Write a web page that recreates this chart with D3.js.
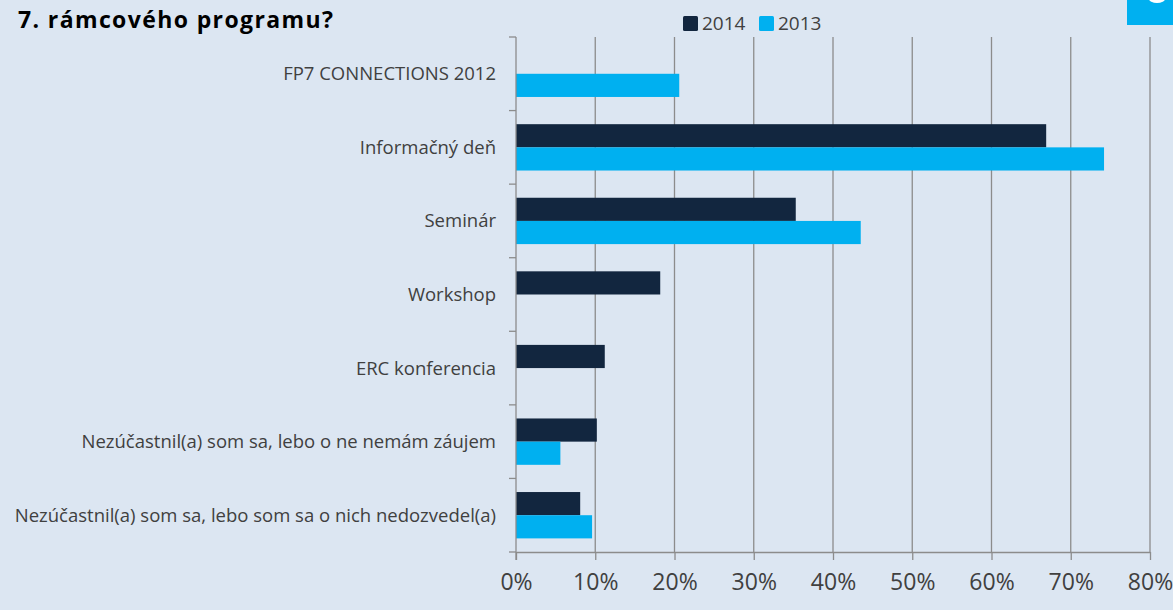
<!DOCTYPE html>
<html>
<head>
<meta charset="utf-8">
<script src="https://cdn.jsdelivr.net/npm/d3@7"></script>
<style>
  body { margin: 0; background: #dce6f2; }
  svg { display: block; font-family: "Open Sans", sans-serif; }
</style>
</head>
<body>
<svg id="chart_svg" width="1173" height="610"></svg>
<script>
var categories = [
  "FP7 CONNECTIONS 2012",
  "Informačný deň",
  "Seminár",
  "Workshop",
  "ERC konferencia",
  "Nezúčastnil(a) som sa, lebo o ne nemám záujem",
  "Nezúčastnil(a) som sa, lebo som sa o nich nedozvedel(a)"
];
var seriesNames = ["2014", "2013"];
var values2014 = [null, 66.9, 35.3, 18.2, 11.2, 10.2, 8.1];
var values2013 = [20.6, 74.2, 43.5, null, null, 5.6, 9.6];
var xTicks = [0, 10, 20, 30, 40, 50, 60, 70, 80];

var COLORS = { "2014": "#12263f", "2013": "#00b0f0" };
var MARGIN = { TOP: 37, RIGHT: 23, BOTTOM: 58, LEFT: 516 };

window.addEventListener("load", drawBars);

function drawBars() {
  var svg = d3.select("#chart_svg");
  var width = +svg.attr("width");
  var height = +svg.attr("height");

  svg.append("rect").attr("width", width).attr("height", height).attr("fill", "#dce6f2");

  var x = d3.scaleLinear().domain([0, 80]).range([MARGIN.LEFT, width - MARGIN.RIGHT]);
  var y = d3.scaleBand().domain(categories).range([MARGIN.TOP, height - MARGIN.BOTTOM])
    .paddingInner(0.37).paddingOuter(0.185);
  var inner = d3.scaleBand().domain(seriesNames).range([0, y.bandwidth()]);

  // vertical gridlines
  svg.append("g").selectAll("line").data(xTicks.slice(1)).enter().append("line")
    .attr("x1", function (d) { return x(d); }).attr("x2", function (d) { return x(d); })
    .attr("y1", MARGIN.TOP).attr("y2", height - MARGIN.BOTTOM)
    .attr("stroke", "#8c8c8c").attr("stroke-width", 1.3);

  var rows = categories.map(function (c, i) {
    return { cat: c, "2014": values2014[i], "2013": values2013[i] };
  });

  var groups = svg.append("g").selectAll("g").data(rows).enter().append("g")
    .attr("transform", function (d) { return "translate(0," + y(d.cat) + ")"; });

  groups.selectAll("rect")
    .data(function (d) {
      return seriesNames.filter(function (s) { return d[s] != null; })
        .map(function (s) { return { key: s, value: d[s] }; });
    })
    .enter().append("rect")
    .attr("x", x(0))
    .attr("y", function (d) { return inner(d.key); })
    .attr("width", function (d) { return x(d.value) - x(0); })
    .attr("height", inner.bandwidth())
    .attr("fill", function (d) { return COLORS[d.key]; });

  // x axis
  var xAxis = svg.append("g")
    .attr("transform", "translate(0," + (height - MARGIN.BOTTOM) + ")")
    .call(d3.axisBottom(x).tickValues(xTicks).tickFormat(function (d) { return d + "%"; })
      .tickSizeInner(8).tickSizeOuter(0).tickPadding(14));
  xAxis.select(".domain").attr("stroke", "#8c8c8c").attr("stroke-width", 1.3);
  xAxis.selectAll(".tick line").attr("stroke", "#8c8c8c").attr("stroke-width", 1.3);
  xAxis.selectAll("text").attr("font-size", 23).attr("fill", "#404040")
    .attr("font-family", "Open Sans, sans-serif");

  // y axis with ticks between categories
  var yAxisG = svg.append("g");
  yAxisG.append("line").attr("x1", x(0)).attr("x2", x(0))
    .attr("y1", MARGIN.TOP).attr("y2", height - MARGIN.BOTTOM + 8)
    .attr("stroke", "#8c8c8c").attr("stroke-width", 1.3);
  var step = y.step();
  var bounds = d3.range(categories.length + 1).map(function (i) { return MARGIN.TOP + i * step; });
  yAxisG.selectAll("line.tk").data(bounds).enter().append("line").attr("class", "tk")
    .attr("x1", x(0) - 7).attr("x2", x(0))
    .attr("y1", function (d) { return d; }).attr("y2", function (d) { return d; })
    .attr("stroke", "#8c8c8c").attr("stroke-width", 1.3);
  yAxisG.selectAll("text").data(categories).enter().append("text")
    .attr("x", x(0) - 20)
    .attr("y", function (d) { return y(d) + y.bandwidth() / 2; })
    .attr("dy", "0.35em")
    .attr("text-anchor", "end")
    .attr("font-size", 18.5)
    .attr("fill", "#404040")
    .text(function (d) { return d; });

  // title
  svg.append("text").attr("x", 18).attr("y", 28)
    .attr("font-size", 23).attr("font-weight", "bold").attr("fill", "#000")
    .attr("textLength", 315).attr("lengthAdjust", "spacing")
    .text("7. rámcového programu?");

  // legend
  var legend = svg.append("g").attr("transform", "translate(683,15)");
  var lx = [0, 76];
  seriesNames.forEach(function (s, i) {
    legend.append("rect").attr("x", lx[i]).attr("y", 1).attr("width", 15).attr("height", 15)
      .attr("rx", 1.5).attr("fill", COLORS[s]);
    legend.append("text").attr("x", lx[i] + 19).attr("y", 15)
      .attr("font-size", 19).attr("fill", "#404040").text(s);
  });

  // corner box
  svg.append("rect").attr("x", 1127).attr("y", 0).attr("width", 46).attr("height", 25).attr("fill", "#00b0f0");
  svg.append("ellipse").attr("cx", 1157).attr("cy", -1).attr("rx", 8).attr("ry", 4).attr("fill", "#fff");
}
</script>
</body>
</html>
